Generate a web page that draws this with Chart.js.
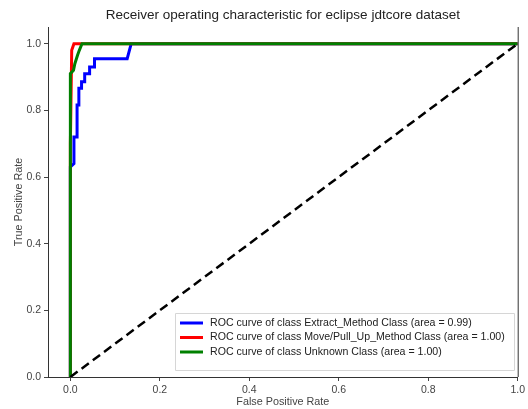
<!DOCTYPE html>
<html>
<head>
<meta charset="utf-8">
<script src="https://cdn.jsdelivr.net/npm/chart.js@4/dist/chart.umd.min.js"></script>
<style>
  html, body { margin: 0; padding: 0; background: #fff; }
  #wrap { width: 528px; height: 409px; }
</style>
</head>
<body>
<div id="wrap"><canvas id="roc" width="528" height="409"></canvas></div>
<script>
// ROC curves per class: [false positive rate, true positive rate]
const extractMethod = [[0,0],[0,0.63],[0.008,0.64],[0.008,0.72],[0.015,0.72],[0.015,0.816],[0.019,0.816],[0.019,0.866],[0.025,0.866],[0.025,0.886],[0.032,0.886],[0.032,0.91],[0.043,0.91],[0.043,0.93],[0.054,0.93],[0.054,0.955],[0.127,0.955],[0.136,1.0],[1,1]];
const moveMethod = [[0,0],[0,0.70],[0.003,0.98],[0.008,1.0],[1,1]];
const unknownClass = [[0,0],[0,0.91],[0.007,0.92],[0.01,0.94],[0.016,0.965],[0.02,0.98],[0.026,1.0],[1,1]];
const chanceLine = [[0,0],[1,1]];

const classNames = ['Extract_Method Class', 'Move/Pull_Up_Method Class', 'Unknown Class'];
const areas = [0.99, 1.00, 1.00];
const xTicks = [0.0, 0.2, 0.4, 0.6, 0.8, 1.0];
const yTicks = [0.0, 0.2, 0.4, 0.6, 0.8, 1.0];

const FONT = '"Liberation Sans", Arial, sans-serif';
const toPts = arr => arr.map(p => ({x: p[0], y: p[1]}));
const legendText = (i) => 'ROC curve of class ' + classNames[i] + ' (area = ' + areas[i].toFixed(2) + ')';

// Title centred over the plot, right spine and in-plot legend box
const decor = {
  id: 'decor',
  afterDraw(chart) {
    const {ctx, chartArea: a} = chart;
    ctx.save();
    // right spine
    ctx.strokeStyle = '#333';
    ctx.lineWidth = 1;
    ctx.beginPath();
    ctx.moveTo(a.right + 0.5, a.top);
    ctx.lineTo(a.right + 0.5, a.bottom);
    ctx.stroke();
    // title
    ctx.fillStyle = '#222';
    ctx.font = '13.5px ' + FONT;
    ctx.textAlign = 'center';
    ctx.textBaseline = 'middle';
    ctx.fillText('Receiver operating characteristic for eclipse jdtcore dataset', (a.left + a.right) / 2, 15);
    // legend
    const entries = chart.data.datasets.filter(d => d.legend);
    ctx.font = '10.6px ' + FONT;
    const rowH = 14.5;
    let tw = 0;
    entries.forEach(d => { tw = Math.max(tw, ctx.measureText(d.label).width); });
    const boxW = 6 + 24 + 7 + tw + 7;
    const boxH = entries.length * rowH + 13;
    const bx = a.right - 4 - boxW;
    const by = a.bottom - 8 - boxH;
    ctx.fillStyle = 'rgba(255,255,255,0.85)';
    ctx.strokeStyle = '#d6d6d6';
    ctx.lineWidth = 1;
    ctx.beginPath();
    ctx.rect(Math.round(bx) + 0.5, Math.round(by) + 0.5, Math.round(boxW), Math.round(boxH));
    ctx.fill();
    ctx.stroke();
    ctx.textAlign = 'left';
    entries.forEach((d, i) => {
      const cy = by + 10.5 + rowH * i;
      ctx.strokeStyle = d.borderColor;
      ctx.lineWidth = 3;
      ctx.beginPath();
      ctx.moveTo(bx + 5, cy);
      ctx.lineTo(bx + 28, cy);
      ctx.stroke();
      ctx.fillStyle = '#222';
      ctx.fillText(d.label, bx + 35, cy);
    });
    ctx.restore();
  }
};

const lineDs = (label, data, color, order) => ({
  label, data: toPts(data), borderColor: color, backgroundColor: color,
  borderWidth: 3, pointRadius: 0, showLine: true, tension: 0, order, legend: true
});

new Chart(document.getElementById('roc'), {
  type: 'scatter',
  data: {
    datasets: [
      lineDs(legendText(0), extractMethod, '#0000ff', 3),
      lineDs(legendText(1), moveMethod, '#ff0000', 2),
      lineDs(legendText(2), unknownClass, '#008000', 1),
      { label: 'chance', data: toPts(chanceLine), borderColor: '#000', borderWidth: 2.5,
        borderDash: [9, 5], pointRadius: 0, showLine: true, order: 0, legend: false }
    ]
  },
  options: {
    responsive: false,
    animation: false,
    events: [],
    layout: { padding: { top: 27, right: 10, left: 0, bottom: 0 } },
    plugins: { legend: { display: false }, tooltip: { enabled: false }, title: { display: false } },
    scales: {
      x: {
        type: 'linear', min: -0.05, max: 1.0,
        afterBuildTicks: s => { s.ticks = xTicks.map(v => ({value: v})); },
        afterFit: s => { s.height = 32; },
        grid: { drawOnChartArea: false, drawTicks: true, tickLength: 4, tickColor: '#444' },
        border: { display: true, color: '#333', width: 1 },
        ticks: { color: '#444', font: { family: FONT, size: 10.5 }, padding: 3, maxRotation: 0,
                 callback: v => v.toFixed(1) },
        title: { display: true, text: 'False Positive Rate', color: '#444',
                 font: { family: FONT, size: 10.8 }, padding: { top: 0, bottom: 0 } }
      },
      y: {
        type: 'linear', min: 0, max: 1.05,
        afterBuildTicks: s => { s.ticks = yTicks.map(v => ({value: v})); },
        afterFit: s => { s.width = 48; },
        grid: { drawOnChartArea: false, drawTicks: true, tickLength: 4, tickColor: '#444' },
        border: { display: true, color: '#333', width: 1 },
        ticks: { color: '#444', font: { family: FONT, size: 10.5 }, padding: 3,
                 callback: v => v.toFixed(1) },
        title: { display: true, text: 'True Positive Rate', color: '#444',
                 font: { family: FONT, size: 10.8 }, padding: { top: 13, bottom: 0 } }
      }
    }
  },
  plugins: [decor]
});
</script>
</body>
</html>
